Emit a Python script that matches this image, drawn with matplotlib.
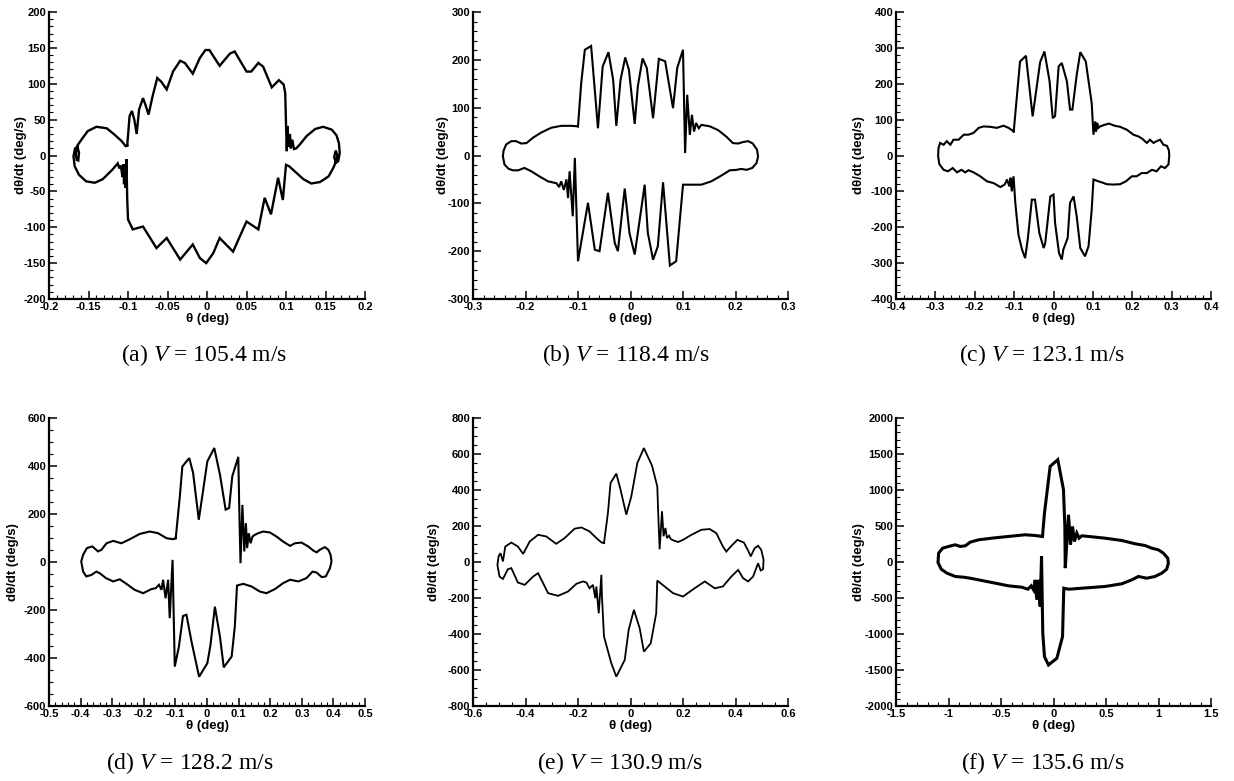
import matplotlib
matplotlib.use("Agg")
import matplotlib.pyplot as plt
from matplotlib.ticker import MultipleLocator, FuncFormatter

# (a) V = 105.4 m/s
a_theta = [-0.101, -0.098, -0.095, -0.092, -0.089, -0.086, -0.081, -0.078, -0.074, -0.069, -0.063, -0.058,
           -0.051, -0.043, -0.034, -0.028, -0.018, -0.009, -0.002, 0.003, 0.016, 0.029, 0.035, 0.050,
           0.056, 0.065, 0.071, 0.082, 0.091, 0.097, 0.099, 0.100, 0.101, 0.102, 0.103, 0.105, 0.106,
           0.108, 0.110,
           0.113, 0.118, 0.126, 0.137, 0.147, 0.158, 0.164, 0.167, 0.168, 0.166, 0.163, 0.161, 0.163,
           0.165, 0.163, 0.160, 0.154, 0.143, 0.132, 0.122, 0.111, 0.104, 0.100,
           0.096, 0.090, 0.081, 0.073, 0.065, 0.050, 0.033, 0.016, 0.008, -0.001, -0.009, -0.018,
           -0.034, -0.051, -0.064, -0.081, -0.094, -0.100, -0.101, -0.102, -0.103, -0.104, -0.105,
           -0.106, -0.107, -0.109, -0.111, -0.113,
           -0.120, -0.132, -0.142, -0.153, -0.162, -0.1675, -0.169, -0.167, -0.164, -0.162, -0.163,
           -0.165, -0.166, -0.164, -0.159, -0.151, -0.140, -0.127, -0.117, -0.108, -0.103, -0.101]
a_rate = [14, 55, 62, 50, 30, 64, 80, 71, 57, 82, 108, 103,
          92, 117, 132, 129, 114, 136, 147, 147, 125, 142, 145, 117,
          117, 129, 124, 95, 105, 99, 87, 45, 6, 41, 12, 30, 10,
          22, 9,
          10, 16, 27, 37, 40, 36, 28, 17, 3, -8, -10, -2, 7,
          0, -9, -17, -29, -37, -39, -33, -22, -15, -13,
          -62, -31, -82, -59, -103, -92, -134, -115, -136, -150, -143, -124,
          -145, -115, -129, -99, -103, -89, -60, -5, -45, -13, -40,
          -12, -30, -14, -18, -11,
          -20, -33, -38, -36, -27, -15, -1, 10, 12, 4, -7,
          -6, 2, 14, 22, 34, 40, 38, 29, 20, 13, 14]

# (b) V = 118.4 m/s
b_theta = [-0.100, -0.094, -0.087, -0.075, -0.062, -0.053, -0.042, -0.033, -0.027, -0.019, -0.010, -0.003,
           0.008, 0.014, 0.023, 0.031, 0.043, 0.054, 0.066, 0.081, 0.089, 0.100, 0.104, 0.108, 0.113,
           0.117, 0.121, 0.125, 0.130, 0.135,
           0.151, 0.167, 0.183, 0.195, 0.205, 0.214, 0.224, 0.233, 0.241, 0.243, 0.240, 0.232, 0.221,
           0.211, 0.202, 0.189, 0.173, 0.154, 0.135, 0.116, 0.100,
           0.087, 0.075, 0.062, 0.052, 0.043, 0.033, 0.027, 0.018, 0.008, -0.002, -0.011, -0.024,
           -0.030, -0.043, -0.059, -0.068, -0.081, -0.100, -0.106, -0.110, -0.116, -0.119, -0.122,
           -0.127, -0.132, -0.136, -0.141,
           -0.157, -0.173, -0.189, -0.202, -0.214, -0.224, -0.232, -0.240, -0.243, -0.242, -0.237,
           -0.227, -0.218, -0.208, -0.198, -0.186, -0.170, -0.151, -0.132, -0.113, -0.100]
b_rate = [61, 150, 221, 229, 57, 186, 216, 158, 62, 158, 205, 179,
          66, 145, 203, 183, 78, 202, 197, 99, 183, 221, 5, 127, 43,
          85, 50, 68, 57, 64,
          61, 53, 39, 26, 25, 28, 30, 25, 12, -2, -16, -26, -30,
          -28, -30, -31, -42, -54, -61, -61, -61,
          -221, -230, -56, -190, -218, -162, -61, -131, -207, -162, -69, -200,
          -183, -78, -200, -197, -99, -221, -5, -127, -33, -89, -50,
          -72, -54, -66, -58,
          -54, -44, -33, -26, -31, -31, -28, -19, -2, 9, 23,
          30, 30, 25, 26, 37, 48, 58, 62, 62, 61]

# (c) V = 123.1 m/s
c_theta = [-0.101, -0.085, -0.070, -0.053, -0.034, -0.023, -0.010, -0.002, 0.004, 0.013, 0.021, 0.034,
           0.042, 0.048, 0.059, 0.068, 0.082, 0.097, 0.1015, 0.106, 0.108, 0.111, 0.114, 0.118,
           0.131, 0.141, 0.155, 0.169, 0.186, 0.203, 0.216, 0.226, 0.237, 0.245, 0.254, 0.262, 0.271,
           0.279, 0.288, 0.293, 0.294, 0.292, 0.283, 0.273, 0.262, 0.250, 0.237, 0.224, 0.211, 0.199,
           0.184, 0.169, 0.152, 0.135, 0.123, 0.114, 0.1015,
           0.097, 0.089, 0.080, 0.068, 0.059, 0.051, 0.042, 0.036, 0.025, 0.021, 0.014, 0.004, 0.000,
           -0.008, -0.021, -0.025, -0.036, -0.047, -0.055, -0.065, -0.072, -0.080, -0.089, -0.097,
           -0.1015, -0.106, -0.109, -0.112, -0.118, -0.124, -0.135,
           -0.152, -0.169, -0.186, -0.203, -0.216, -0.224, -0.234, -0.245, -0.256, -0.268, -0.279,
           -0.290, -0.293, -0.292, -0.288, -0.279, -0.271, -0.262, -0.254, -0.241, -0.228, -0.216,
           -0.203, -0.190, -0.178, -0.161, -0.144, -0.127, -0.114, -0.101]
c_rate = [67, 262, 278, 109, 260, 290, 207, 104, 110, 248, 258, 207,
          128, 128, 225, 288, 262, 146, 58, 95, 67, 91, 77, 81,
          86, 89, 83, 80, 72, 58, 53, 46, 35, 44, 35, 40, 44,
          30, 27, 15, 0, -25, -35, -30, -44, -40, -49, -49, -58, -58,
          -72, -80, -81, -80, -75, -72, -67,
          -151, -253, -281, -258, -170, -114, -132, -230, -262, -290, -272, -188, -109,
          -114, -244, -258, -216, -123, -123, -230, -286, -262, -221, -132,
          -58, -100, -62, -86, -67, -81, -88,
          -77, -72, -58, -47, -41, -47, -40, -47, -35, -44, -40,
          -24, -2, 21, 35, 30, 40, 30, 44, 44, 58, 58,
          63, 77, 81, 80, 77, 83, 77, 67]

# (d) V = 128.2 m/s
d_theta = [-0.099, -0.086, -0.078, -0.056, -0.044, -0.026, -0.012, 0.001, 0.023, 0.041, 0.059, 0.070,
           0.080, 0.099, 0.102, 0.106, 0.112, 0.118, 0.123, 0.127, 0.132, 0.138, 0.144, 0.151,
           0.162, 0.178, 0.199, 0.220, 0.241, 0.263, 0.278, 0.299, 0.320, 0.336, 0.347, 0.357, 0.373,
           0.384, 0.391, 0.394, 0.389, 0.376, 0.363, 0.347, 0.334, 0.315, 0.289, 0.263, 0.241, 0.215,
           0.188, 0.167, 0.141, 0.115, 0.095,
           0.088, 0.078, 0.053, 0.041, 0.025, 0.011, 0.001, -0.025, -0.049, -0.065, -0.076, -0.089,
           -0.102, -0.109, -0.118, -0.123, -0.131, -0.139, -0.144, -0.152, -0.162,
           -0.176, -0.202, -0.229, -0.255, -0.276, -0.297, -0.320, -0.339, -0.350, -0.366, -0.382,
           -0.392, -0.398, -0.392, -0.380, -0.363, -0.345, -0.334, -0.318, -0.297, -0.271, -0.244,
           -0.213, -0.181, -0.155, -0.128, -0.107, -0.099]
d_rate = [99, 273, 398, 433, 371, 176, 301, 419, 475, 364, 218, 225,
          357, 438, 232, -5, 238, 44, 162, 58, 120, 78, 106, 113,
          120, 127, 123, 106, 85, 67, 78, 81, 65, 48, 40, 51, 62,
          51, 30, 2, -26, -60, -63, -44, -40, -67, -81, -74, -88, -113,
          -130, -123, -102, -91, -98,
          -269, -394, -439, -311, -186, -346, -422, -478, -332, -220, -225, -353,
          -436, 9, -234, -74, -151, -74, -116, -95, -109,
          -113, -130, -116, -91, -72, -81, -67, -47, -40, -54, -60,
          -40, 2, 30, 58, 65, 44, 51, 78, 88, 78, 95,
          117, 127, 120, 99, 95, 99]

# (e) V = 130.9 m/s
e_theta = [-0.101, -0.086, -0.076, -0.054, -0.038, -0.016, 0.003, 0.026, 0.051, 0.082, 0.102, 0.107,
           0.111, 0.120, 0.126, 0.133, 0.139, 0.147, 0.153, 0.162,
           0.181, 0.200, 0.232, 0.270, 0.302, 0.327, 0.352, 0.365, 0.382, 0.407, 0.432, 0.450, 0.458,
           0.473, 0.486, 0.498, 0.507, 0.505, 0.496, 0.486, 0.479, 0.467, 0.448, 0.429, 0.410, 0.384,
           0.352, 0.321, 0.283, 0.244, 0.200, 0.162, 0.130, 0.102,
           0.098, 0.077, 0.051, 0.035, 0.013, -0.007, -0.022, -0.054, -0.073, -0.101, -0.109, -0.111,
           -0.121, -0.130, -0.134, -0.143, -0.156, -0.168, -0.181,
           -0.206, -0.238, -0.276, -0.314, -0.352, -0.371, -0.403, -0.429, -0.454, -0.467, -0.486,
           -0.499, -0.507, -0.502, -0.495, -0.486, -0.477, -0.454, -0.429, -0.409, -0.384, -0.352,
           -0.321, -0.283, -0.251, -0.213, -0.187, -0.156, -0.130, -0.111, -0.101]
e_rate = [105, 272, 439, 491, 402, 263, 364, 550, 633, 535, 420, 216,
          71, 282, 143, 189, 133, 146, 128, 121,
          111, 123, 151, 179, 183, 160, 86, 58, 86, 123, 108, 58, 31,
          77, 90, 68, 12, -40, -47, -7, -34, -81, -108, -90, -44, -81,
          -136, -146, -108, -146, -192, -173, -136, -103,
          -285, -452, -498, -368, -266, -377, -544, -637, -563, -414, -183, -71,
          -285, -136, -201, -127, -146, -114, -108,
          -121, -164, -188, -173, -62, -81, -127, -114, -34, -40, -94,
          -81, -16, 34, 49, 3, 86, 108, 86, 45, 114, 151,
          142, 101, 133, 185, 192, 170, 133, 109, 105]

# (f) V = 135.6 m/s
f_theta = [-0.105, -0.086, -0.032, 0.041, 0.095, 0.108, 0.112, 0.143, 0.162, 0.181, 0.200, 0.222,
           0.244, 0.270,
           0.333, 0.490, 0.650, 0.777, 0.872, 0.935, 0.999, 1.047, 1.088, 1.094, 1.078, 1.031, 0.967,
           0.888, 0.809, 0.745, 0.650, 0.490, 0.270, 0.143, 0.098,
           0.086, 0.032, -0.048, -0.086, -0.102, -0.114, -0.127, -0.143, -0.159, -0.174, -0.190,
           -0.212, -0.244,
           -0.301, -0.428, -0.555, -0.714, -0.793, -0.857, -0.936, -1.015, -1.069, -1.100, -1.094,
           -1.056, -0.999, -0.936, -0.888, -0.840, -0.793, -0.714, -0.587, -0.428, -0.270, -0.174,
           -0.105]
f_rate = [355, 679, 1328, 1421, 1004, 494, -85, 656, 239, 494, 285, 401,
          331, 364,
          355, 331, 299, 253, 229, 192, 169, 123, 53, -16, -100, -155, -201,
          -225, -201, -248, -303, -340, -364, -378, -364,
          -1036, -1337, -1430, -1314, -989, 77, -618, -248, -525, -248, -387,
          -331, -378,
          -350, -331, -294, -248, -225, -211, -201, -155, -100, -7, 123,
          192, 216, 239, 216, 225, 276, 308, 331, 355, 378, 368,
          355]

captions = ["(a) $V$ = 105.4 m/s", "(b) $V$ = 118.4 m/s", "(c) $V$ = 123.1 m/s",
            "(d) $V$ = 128.2 m/s", "(e) $V$ = 130.9 m/s", "(f) $V$ = 135.6 m/s"]
x_limits = [0.2, 0.3, 0.4, 0.5, 0.6, 1.5]
y_limits = [200, 300, 400, 600, 800, 2000]

plt.rcParams['font.family'] = ['Liberation Sans', 'DejaVu Sans']
plt.rcParams['mathtext.fontset'] = 'custom'
plt.rcParams['mathtext.rm'] = 'Liberation Serif'
plt.rcParams['mathtext.it'] = 'Liberation Serif:italic'

W, H = 1234, 781
fig = plt.figure(figsize=(W / 100, H / 100), dpi=100)

# panel boxes in pixels: left, top, right, bottom
boxes = [(49, 12, 365, 299), (473, 12, 788, 299), (896, 12, 1211, 299),
         (49, 418, 365, 706), (473, 418, 788, 706), (896, 418, 1211, 706)]
x_major = [0.05, 0.1, 0.1, 0.1, 0.2, 0.5]
x_minor = [0.01, 0.02, 0.02, 0.02, 0.05, 0.1]
y_major = [50, 100, 100, 200, 200, 500]
y_minor = [10, 20, 20, 50, 50, 100]
lw = [1.7, 1.5, 1.5, 1.5, 1.3, 2.2]
ylab_dx = [22, 24, 31, 30, 33, 31]
cap_x = [204, 626, 1042, 190, 620, 1043]
cap_y = [355, 355, 355, 763, 763, 763]

series = [(a_theta, a_rate), (b_theta, b_rate), (c_theta, c_rate),
          (d_theta, d_rate), (e_theta, e_rate), (f_theta, f_rate)]

fmt = FuncFormatter(lambda v, _: f"{round(v, 6) + 0:g}")

for i, (th, rt) in enumerate(series):
    l, t, r, b = boxes[i]
    ax = fig.add_axes([l / W, 1 - b / H, (r - l) / W, (b - t) / H])
    ax.plot(th, rt, color='black', lw=lw[i], solid_joinstyle='miter')
    ax.set_xlim(-x_limits[i], x_limits[i])
    ax.set_ylim(-y_limits[i], y_limits[i])
    ax.xaxis.set_major_locator(MultipleLocator(x_major[i]))
    ax.xaxis.set_minor_locator(MultipleLocator(x_minor[i]))
    ax.yaxis.set_major_locator(MultipleLocator(y_major[i]))
    ax.yaxis.set_minor_locator(MultipleLocator(y_minor[i]))
    ax.xaxis.set_major_formatter(fmt)
    ax.yaxis.set_major_formatter(fmt)
    for s in ['top', 'right']:
        ax.spines[s].set_visible(False)
    for s in ['left', 'bottom']:
        ax.spines[s].set_linewidth(1.6)
    ax.tick_params(which='major', direction='in', length=6, width=1.1,
                   labelsize=8, pad=2)
    ax.tick_params(which='minor', direction='in', length=3, width=0.8)
    for lab in ax.get_xticklabels() + ax.get_yticklabels():
        lab.set_fontweight('bold')
    ax.set_xlabel('θ (deg)', fontsize=9.5, fontweight='bold', labelpad=1)
    ax.set_ylabel('dθ/dt (deg/s)', fontsize=9.5, fontweight='bold')
    ax.yaxis.set_label_coords(-ylab_dx[i] / (r - l), 0.5)
    fig.text(cap_x[i] / W, 1 - cap_y[i] / H, captions[i], ha='center', va='center',
             fontsize=17, family='Liberation Serif')

fig.savefig('out.png', dpi=100)
